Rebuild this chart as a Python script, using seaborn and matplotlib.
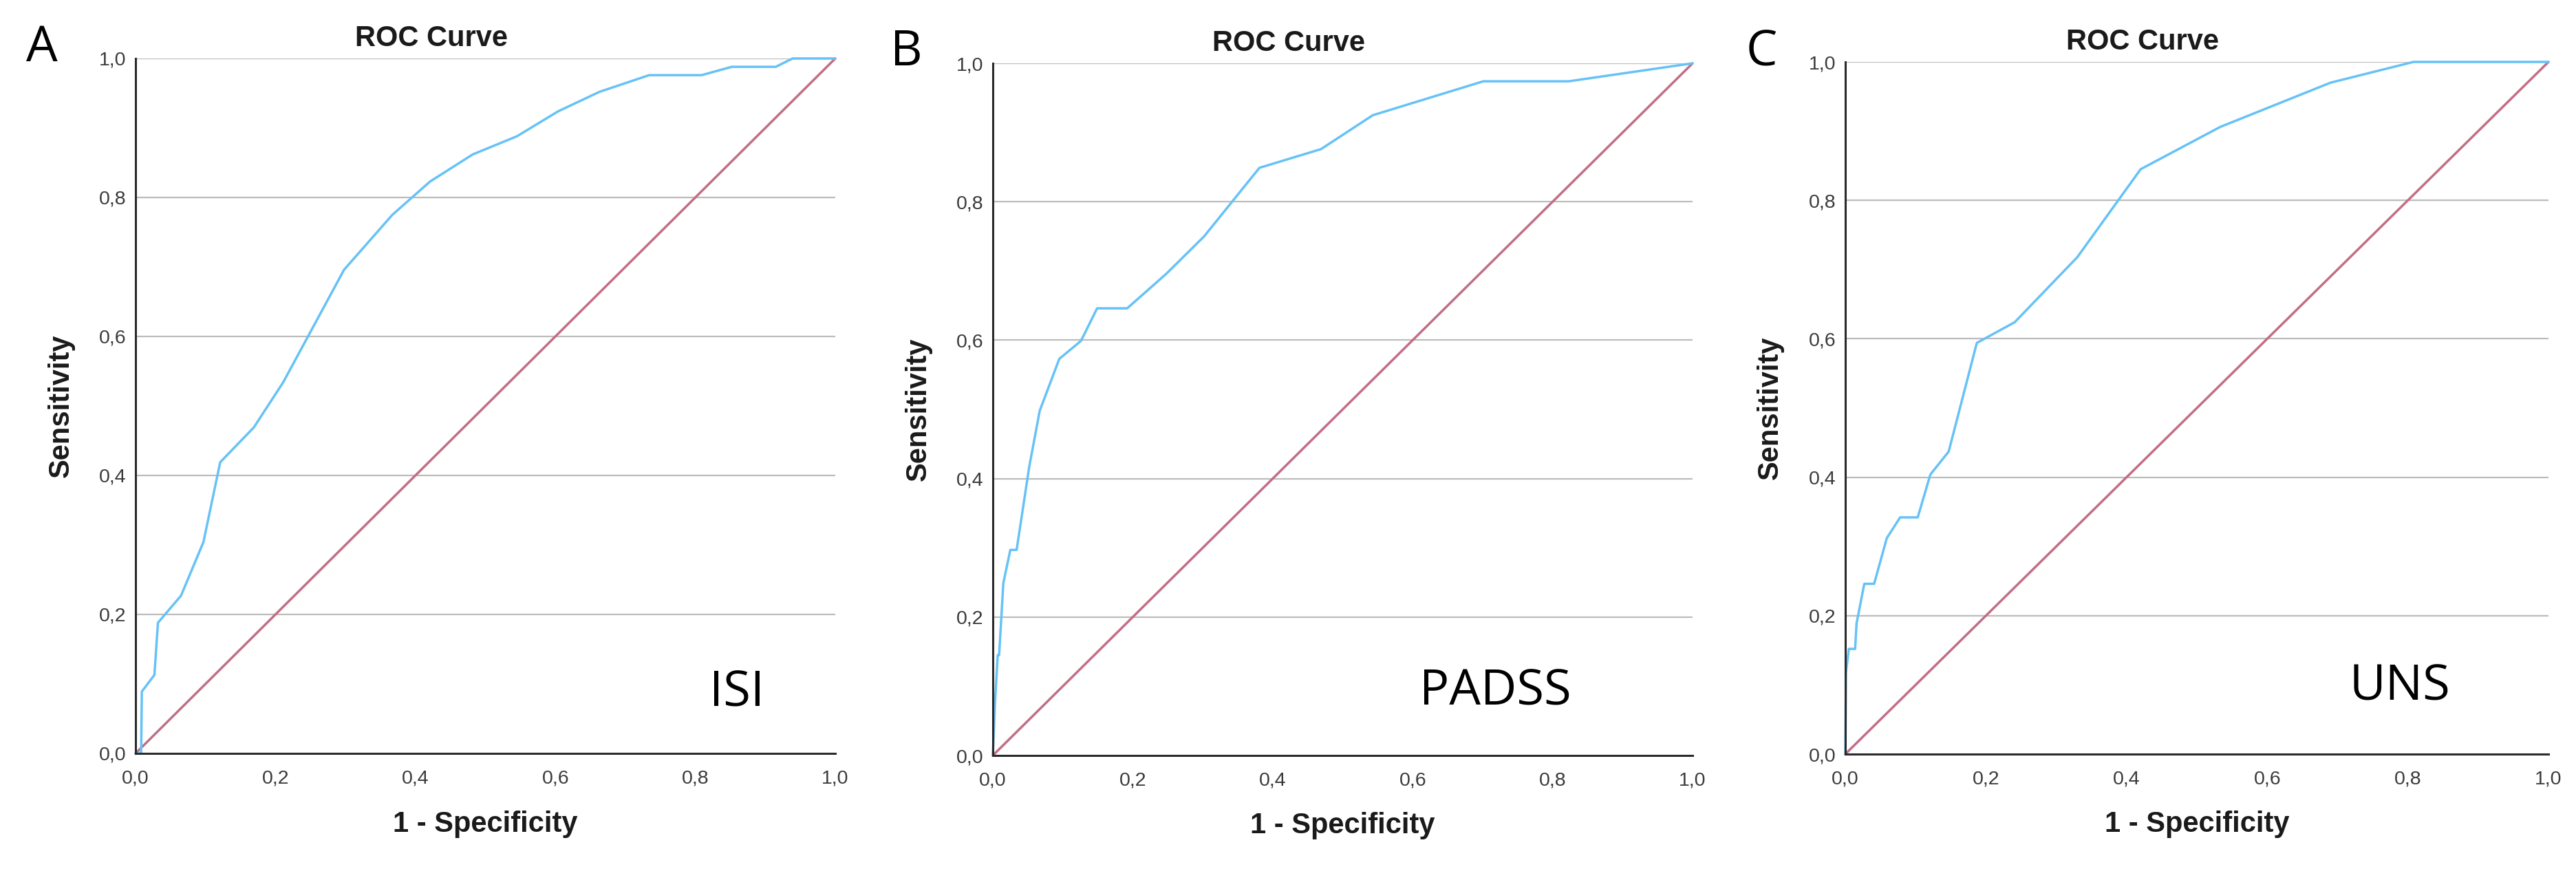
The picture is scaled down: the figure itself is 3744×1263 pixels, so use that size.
import matplotlib
matplotlib.use("Agg")
import matplotlib.pyplot as plt
import matplotlib.ticker as mticker
import pandas as pd
import seaborn as sns

sns.set_theme(style="white")
plt.rcParams["font.family"] = ["Liberation Sans", "DejaVu Sans"]

# ROC points
fpr_isi = [0.0, 0.008, 0.009, 0.027, 0.032, 0.065, 0.097, 0.121, 0.169, 0.211, 0.298, 0.367,
           0.421, 0.482, 0.545, 0.604, 0.663, 0.734, 0.809, 0.852, 0.915, 0.939, 1.0]
tpr_isi = [0.0, 0.0, 0.089, 0.113, 0.188, 0.227, 0.304, 0.419, 0.469, 0.534, 0.696, 0.775,
           0.823, 0.862, 0.888, 0.924, 0.952, 0.976, 0.976, 0.988, 0.988, 1.0, 1.0]

fpr_padss = [0.0, 0.003, 0.007, 0.009, 0.015, 0.025, 0.034, 0.052, 0.067, 0.095, 0.126, 0.149,
             0.192, 0.248, 0.302, 0.381, 0.469, 0.543, 0.701, 0.823, 1.0]
tpr_padss = [0.0, 0.074, 0.145, 0.145, 0.249, 0.297, 0.297, 0.417, 0.498, 0.573, 0.599, 0.646,
             0.646, 0.696, 0.750, 0.849, 0.876, 0.925, 0.974, 0.974, 1.0]

fpr_uns = [0.0, 0.001, 0.005, 0.014, 0.016, 0.027, 0.041, 0.059, 0.078, 0.103, 0.121, 0.147,
           0.187, 0.241, 0.330, 0.420, 0.533, 0.690, 0.808, 1.0]
tpr_uns = [0.0, 0.118, 0.152, 0.152, 0.189, 0.246, 0.246, 0.312, 0.342, 0.342, 0.404, 0.437,
           0.594, 0.624, 0.718, 0.845, 0.906, 0.970, 1.0, 1.0]

ref_x = [0.0, 1.0]
ref_y = [0.0, 1.0]

panel_letters = ["A", "B", "C"]
scale_names = ["ISI", "PADSS", "UNS"]
y_ticks = [0.0, 0.2, 0.4, 0.6, 0.8, 1.0]

curves = [(fpr_isi, tpr_isi), (fpr_padss, tpr_padss), (fpr_uns, tpr_uns)]

W, H = 3744, 1263
# axes boxes in pixels: left, top, width, height
boxes = [(197, 85, 1017, 1010), (1443, 92, 1017, 1006), (2682, 90, 1022, 1006)]
letter_pos = [(38, 89), (1294, 95), (2538, 95)]
name_pos = [(0.82, 0.068), (0.61, 0.073), (0.717, 0.078)]

ROC_COLOR = "#66c2f6"
REF_COLOR = "#c26e84"
TICK_COLOR = "#3a3a3a"

fig = plt.figure(figsize=(W / 100, H / 100), dpi=100)

for i, (fpr, tpr) in enumerate(curves):
    left, top, w, h = boxes[i]
    ax = fig.add_axes([left / W, (H - top - h) / H, w / W, h / H])

    df = pd.DataFrame({"fpr": fpr, "tpr": tpr})
    ref = pd.DataFrame({"x": ref_x, "y": ref_y})

    for yv in y_ticks[1:]:
        ax.axhline(yv, color="#bcbcbc", linewidth=1.6, zorder=0)

    sns.lineplot(data=ref, x="x", y="y", ax=ax, color=REF_COLOR, linewidth=2.5,
                 estimator=None, sort=False, clip_on=False, zorder=3)
    sns.lineplot(data=df, x="fpr", y="tpr", ax=ax, color=ROC_COLOR, linewidth=2.5,
                 estimator=None, sort=False, clip_on=False, zorder=4)

    ax.set_xlim(0, 1)
    ax.set_ylim(0, 1)
    ax.set_xticks(y_ticks)
    ax.set_yticks(y_ticks)
    fmt = mticker.FuncFormatter(lambda v, _: f"{v:.1f}".replace(".", ","))
    ax.xaxis.set_major_formatter(fmt)
    ax.yaxis.set_major_formatter(fmt)
    ax.tick_params(axis="x", length=0, pad=17, labelsize=20.5, labelcolor=TICK_COLOR)
    ax.tick_params(axis="y", length=0, pad=10, labelsize=20.5, labelcolor=TICK_COLOR)

    for side in ["top", "right"]:
        ax.spines[side].set_visible(False)
    for side in ["left", "bottom"]:
        ax.spines[side].set_color("#2b2b2b")
        ax.spines[side].set_linewidth(2.2)
        ax.spines[side].set_zorder(5)

    ax.set_xlabel("1 - Specificity", fontsize=30, fontweight="bold", color="#1a1a1a")
    ax.set_ylabel("Sensitivity", fontsize=30, fontweight="bold", color="#1a1a1a")
    ax.xaxis.set_label_coords(0.5, -0.082)
    ax.yaxis.set_label_coords(-0.087, 0.5)

    ax.text(0.423, 1.018, "ROC Curve", transform=ax.transAxes, ha="center", va="baseline",
            fontsize=30, fontweight="bold", color="#1a1a1a")

    nx, ny = name_pos[i]
    ax.text(nx, ny, scale_names[i], transform=ax.transAxes, ha="left", va="baseline",
            fontsize=52, family=["Open Sans", "DejaVu Sans"], color="black")

    lx, ly = letter_pos[i]
    fig.text(lx / W, (H - ly) / H, panel_letters[i], ha="left", va="baseline",
             fontsize=52, family=["Open Sans", "DejaVu Sans"], color="black")

    leg = ax.get_legend()
    if leg is not None:
        leg.remove()

fig.savefig("out.png", dpi=100, facecolor="white")
plt.close(fig)
